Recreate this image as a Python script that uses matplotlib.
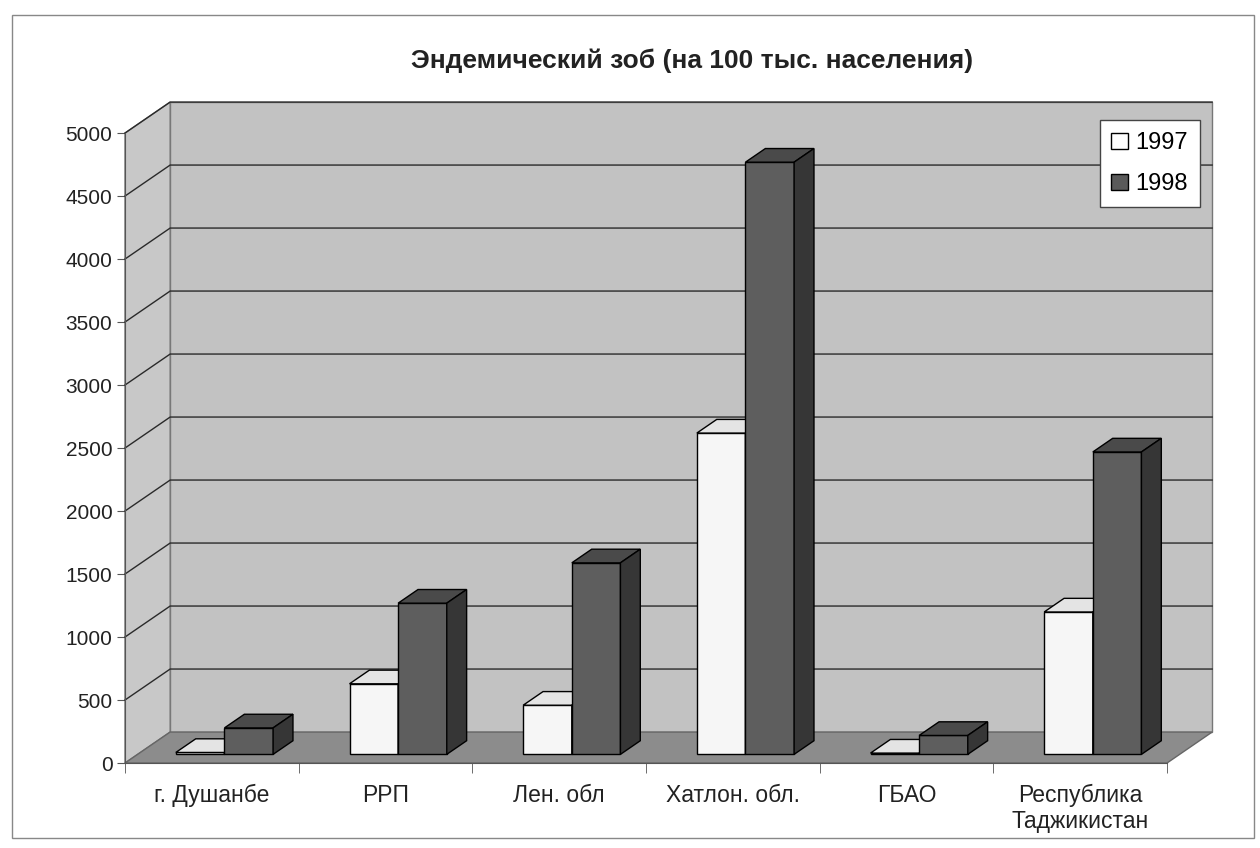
import matplotlib
matplotlib.use('Agg')
import matplotlib.pyplot as plt
from matplotlib.patches import Polygon, Patch, Rectangle

plt.rcParams['font.family'] = ['Liberation Sans', 'DejaVu Sans']

categories = ['г. Душанбе', 'РРП', 'Лен. обл', 'Хатлон. обл.', 'ГБАО', 'Республика\nТаджикистан']
years = ['1997', '1998']
v1997 = [15, 560, 390, 2550, 10, 1130]
v1998 = [210, 1200, 1520, 4700, 150, 2400]
yticks = list(range(0, 5001, 500))

# 3D look: depth offset of the walls in data units
DX = 0.26   # categories
DY = 246    # value units
f0 = 0.28   # front of bars inside the depth
fd = 0.44   # depth of bars
w = 0.28    # bar width

fig = plt.figure(figsize=(12.6, 8.48), dpi=100)
fig.patches.append(Rectangle((0.0095, 0.0118), 0.9857, 0.9705, transform=fig.transFigure,
                             fill=False, edgecolor='#888888', linewidth=1))
ax = fig.add_axes([0.0992, 0.1002, 0.8270, 0.7429])
ax.set_xlim(0, 6)
ax.set_ylim(0, 5000)
ax.patch.set_visible(False)
for s in ['top', 'right']:
    ax.spines[s].set_visible(False)
for s in ['left', 'bottom']:
    ax.spines[s].set_color('#555555')
    ax.spines[s].set_zorder(20)

top = yticks[-1]
n = len(categories)

def poly(pts, fc, z, ec='black', lw=1.0):
    ax.add_patch(Polygon(pts, closed=True, facecolor=fc, edgecolor=ec, linewidth=lw,
                         zorder=z, clip_on=False))

# walls and floor
poly([(DX, DY), (n + DX, DY), (n + DX, top + DY), (DX, top + DY)], '#c2c2c2', 1, ec='#777777')
poly([(0, 0), (DX, DY), (DX, top + DY), (0, top)], '#c8c8c8', 1, ec='#777777')
for v in yticks[1:]:
    ax.plot([0, DX, n + DX], [v, v + DY, v + DY], color='#2a2a2a', linewidth=1,
            zorder=2, clip_on=False)
poly([(0, 0), (n, 0), (n + DX, DY), (DX, DY)], '#8c8c8c', 3, ec='#666666')

# bars
front = {'1997': ('#f6f6f6', '#e4e4e4', '#c8c8c8'),
         '1998': ('#5e5e5e', '#4a4a4a', '#363636')}
z = 4
for i in range(n):
    for k, (yr, vals) in enumerate(zip(years, [v1997, v1998])):
        fc, tc, sc = front[yr]
        x0 = i + 0.5 - w + k * w + f0 * DX
        x1 = x0 + w
        b = f0 * DY
        t = vals[i] + f0 * DY
        ddx, ddy = fd * DX, fd * DY
        poly([(x0, b), (x1, b), (x1, t), (x0, t)], fc, z)
        poly([(x0, t), (x1, t), (x1 + ddx, t + ddy), (x0 + ddx, t + ddy)], tc, z)
        poly([(x1, b), (x1 + ddx, b + ddy), (x1 + ddx, t + ddy), (x1, t)], sc, z)
        z += 1

ax.set_yticks(yticks)
ax.set_yticklabels([str(v) for v in yticks], fontsize=15, color='#222222')
ax.tick_params(axis='y', direction='out', length=6, color='#555555', pad=3)
ax.set_xticks([i + 0.5 for i in range(n)])
ax.set_xticklabels(categories, fontsize=16.5, color='#222222', linespacing=1.15)
ax.tick_params(axis='x', which='major', length=0, pad=15)
ax.set_xticks(range(n + 1), minor=True)
ax.tick_params(axis='x', which='minor', direction='out', length=7, color='#555555')

fig.text(0.549, 0.928, 'Эндемический зоб (на 100 тыс. населения)', ha='center', va='center',
         fontsize=19, fontweight='bold', color='#222222')

handles = [Patch(facecolor='white', edgecolor='black', label='1997'),
           Patch(facecolor='#5a5a5a', edgecolor='black', label='1998')]
leg = ax.legend(handles=handles, loc='upper right', bbox_to_anchor=(0.952, 0.858),
                bbox_transform=fig.transFigure, fontsize=17, frameon=True, fancybox=False,
                framealpha=1, edgecolor='#444444', handlelength=0.7, handleheight=0.7,
                handletextpad=0.3, labelspacing=0.8, borderpad=0.5, borderaxespad=0)
leg.set_zorder(30)

fig.savefig('out.png', dpi=100, facecolor='white')
